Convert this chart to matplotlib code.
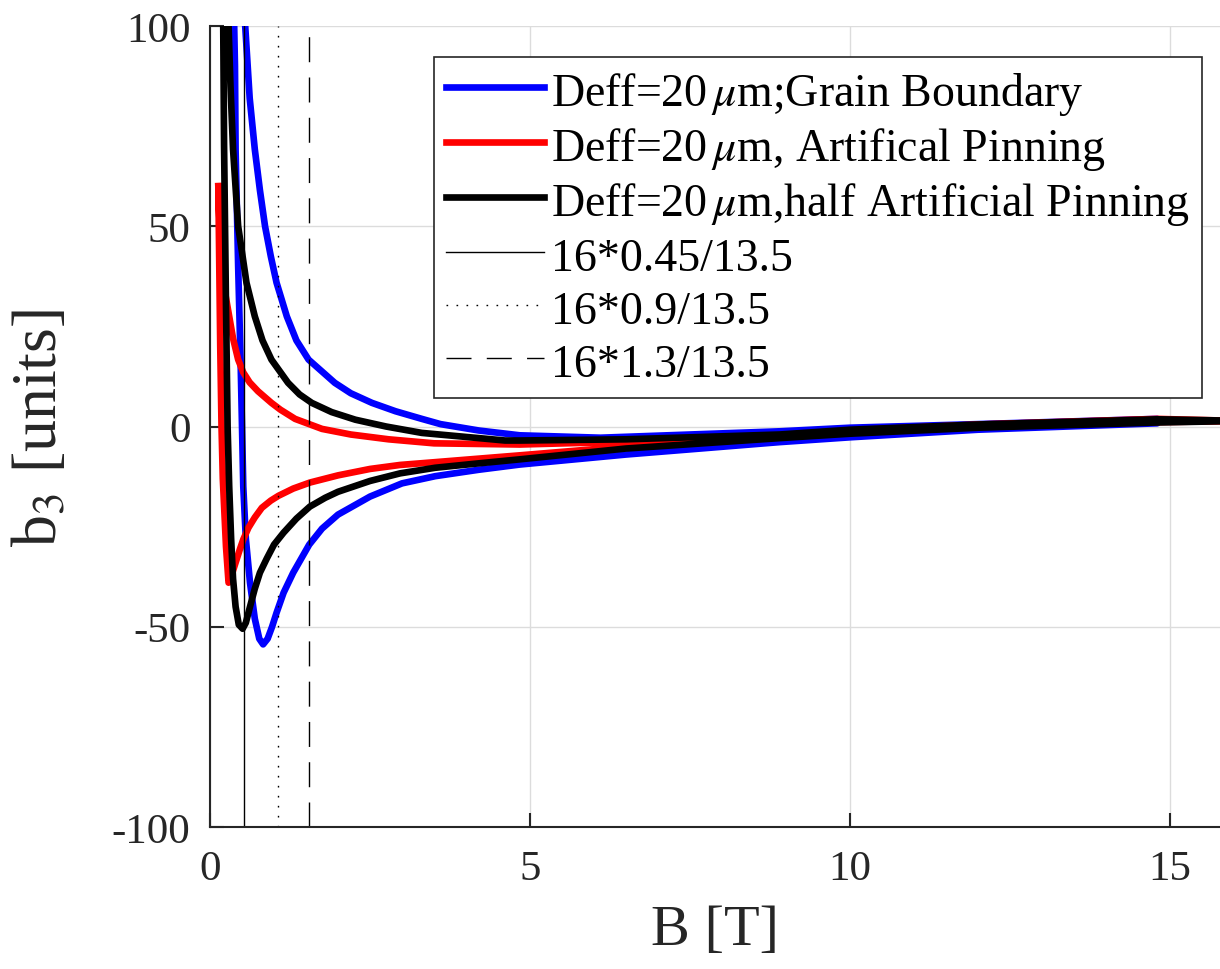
import numpy as np
import matplotlib as mpl
import matplotlib.pyplot as plt

plt.rcParams['font.family'] = ['Liberation Serif', 'DejaVu Serif']
plt.rcParams['mathtext.fontset'] = 'stix'

# b3 hysteresis loops: field ramp up (lower branch) then ramp down (upper branch)
B_blue_up = [0.36, 0.39, 0.40, 0.44, 0.48, 0.50, 0.52, 0.56, 0.625, 0.70, 0.77, 0.83, 0.90, 0.97, 1.04, 1.15, 1.3, 1.55,
             1.75, 2.0, 2.5, 3.0, 3.52, 4.2, 4.84, 6.5, 8.9, 10.0, 12.0, 14.8]
b3_blue_up = [115, 90, 69, 40, 15, 0, -15, -28, -39, -48, -53, -54.4, -53, -50, -46.5, -41.5, -36.5, -29.5,
              -25.5, -22, -17.5, -14.2, -12.4, -10.8, -9.5, -7.0, -3.9, -2.7, -0.8, 0.8]
B_blue_dn = [14.8, 12.0, 10.0, 8.9, 6.1, 4.84, 4.2, 3.6, 3.31, 2.9, 2.53, 2.2, 1.95, 1.54, 1.35, 1.20, 1.04, 0.95, 0.86,
             0.78, 0.70, 0.62, 0.55, 0.53]
b3_blue_dn = [1.9, 0.6, -0.3, -1.2, -2.8, -2.2, -1.0, 0.6, 1.9, 3.8, 5.9, 8.3, 10.9, 16.7, 21.5, 27.5, 35.9, 42.5, 50,
              59, 69.2, 82, 100, 115]

B_red_up = [0.13, 0.16, 0.18, 0.20, 0.25, 0.29, 0.31, 0.36, 0.41, 0.47, 0.52, 0.60, 0.70, 0.81, 0.95, 1.07, 1.3, 1.56,
            2.0, 2.5, 2.97, 3.52, 4.84, 6.5, 8.9, 10.0, 12.0, 14.8, 15.8]
b3_red_up = [60, 20, 0, -13, -30, -39, -38.5, -36, -33.5, -30.5, -28.2, -25.3, -22.7, -20.3, -18.5, -17.3, -15.5, -14,
             -12.2, -10.6, -9.6, -8.9, -7.2, -5, -2.5, -1.5, 0, 1.1, 1.3]
B_red_dn = [15.8, 14.8, 12.0, 10.0, 8.9, 6.5, 4.84, 3.5, 2.79, 2.2, 1.75, 1.33, 1.1, 0.96, 0.75, 0.62, 0.52, 0.44,
            0.36, 0.30, 0.24, 0.19, 0.15, 0.13]
b3_red_dn = [1.5, 1.9, 0.5, -1.0, -2.2, -3.8, -4.5, -4.2, -3.2, -2.0, -0.6, 1.9, 4.2, 5.9, 8.8, 11, 13.5, 16.7,
             22, 27.5, 33, 40, 50, 60]

B_blk_up = [0.20, 0.22, 0.25, 0.275, 0.30, 0.33, 0.36, 0.40, 0.45, 0.51, 0.56, 0.625, 0.70, 0.78, 0.886, 1.0, 1.15,
            1.35, 1.56, 1.8, 2.0, 2.5, 2.97, 3.52, 4.2, 4.84, 6.5, 8.9, 10.0, 12.0, 14.8, 15.8]
b3_blk_up = [115, 70, 30, 0, -15, -28, -38, -45, -49.5, -50.5, -49, -45, -40.5, -36.5, -33, -29.5, -26.5,
             -23, -20, -17.8, -16.3, -13.6, -11.7, -10.3, -9.2, -8.2, -5.5, -2.9, -1.8, -0.3, 1.0, 1.3]
B_blk_dn = [15.8, 14.8, 12.0, 10.0, 8.9, 6.5, 4.84, 4.61, 3.31, 2.75, 2.27, 1.9, 1.59, 1.40, 1.22, 0.96, 0.82, 0.70,
            0.57, 0.44, 0.36, 0.32, 0.29, 0.27]
b3_blk_dn = [1.5, 1.8, 0.5, -0.8, -2.0, -3.2, -3.5, -3.5, -1.6, 0.0, 1.7, 3.6, 5.9, 8.0, 10.9, 16.7, 21.5, 27.5,
             35.9, 50, 69.2, 85, 100, 115]

# reference fields 16*k/13.5
vfields = [16*0.45/13.5, 16*0.9/13.5, 16*1.3/13.5]
vlabels = ['16*0.45/13.5', '16*0.9/13.5', '16*1.3/13.5']

fig = plt.figure(figsize=(12.2, 9.7), dpi=100)
ax = fig.add_axes([210/1220, 142/970, 1010/1220, 801/970])

lw = 4.8
ax.plot(B_blue_up + B_blue_dn, b3_blue_up + b3_blue_dn, color=(0, 0, 1), lw=lw,
        label=r'Deff=20$\,\mu$m;Grain Boundary')
ax.plot(B_red_up + B_red_dn, b3_red_up + b3_red_dn, color=(1, 0, 0), lw=lw,
        label=r'Deff=20$\,\mu$m, Artifical Pinning')
ax.plot(B_blk_up + B_blk_dn, b3_blk_up + b3_blk_dn, color='k', lw=lw,
        label=r'Deff=20$\,\mu$m,half Artificial Pinning')

styles = ['-', (0, (1.2, 6)), (0, (18, 11))]
for xv, st, lab in zip(vfields, styles, vlabels):
    ax.plot([xv, xv], [-100, 100], color='k', lw=1.0, linestyle=st, label=lab)

ax.set_xlim(0, 15.78)
ax.set_ylim(-100, 100)
ax.set_xticks([0, 5, 10, 15])
ax.set_yticks([-100, -50, 0, 50, 100])
ax.set_yticklabels(['-100', '-50', '0', '50', '100'])
ax.grid(True, color='#dcdcdc', lw=1.0)
ax.set_axisbelow(True)
for s in ['top', 'right']:
    ax.spines[s].set_visible(False)
for s in ['left', 'bottom']:
    ax.spines[s].set_linewidth(1.5)
    ax.spines[s].set_color('#262626')
ax.tick_params(direction='in', length=10, width=1.5, labelsize=31, colors='#262626')
ax.tick_params(axis='y', pad=14)
ax.tick_params(axis='x', pad=16)

ax.set_xlabel('B [T]', fontsize=42, color='#262626', labelpad=12)
ax.set_ylabel(r'b$_3$ [units]', fontsize=46, color='#262626', labelpad=30)

leg = ax.legend(loc='upper right', fontsize=33, handlelength=2.15, handletextpad=0.16,
                handleheight=1.0, borderaxespad=0, labelspacing=0.15, borderpad=0.25,
                fancybox=False, bbox_to_anchor=(0.982, 0.961))
leg.get_frame().set_edgecolor('#262626')
leg.get_frame().set_linewidth(1.2)
leg.get_frame().set_alpha(1)

fig.savefig('out.png', dpi=100)
